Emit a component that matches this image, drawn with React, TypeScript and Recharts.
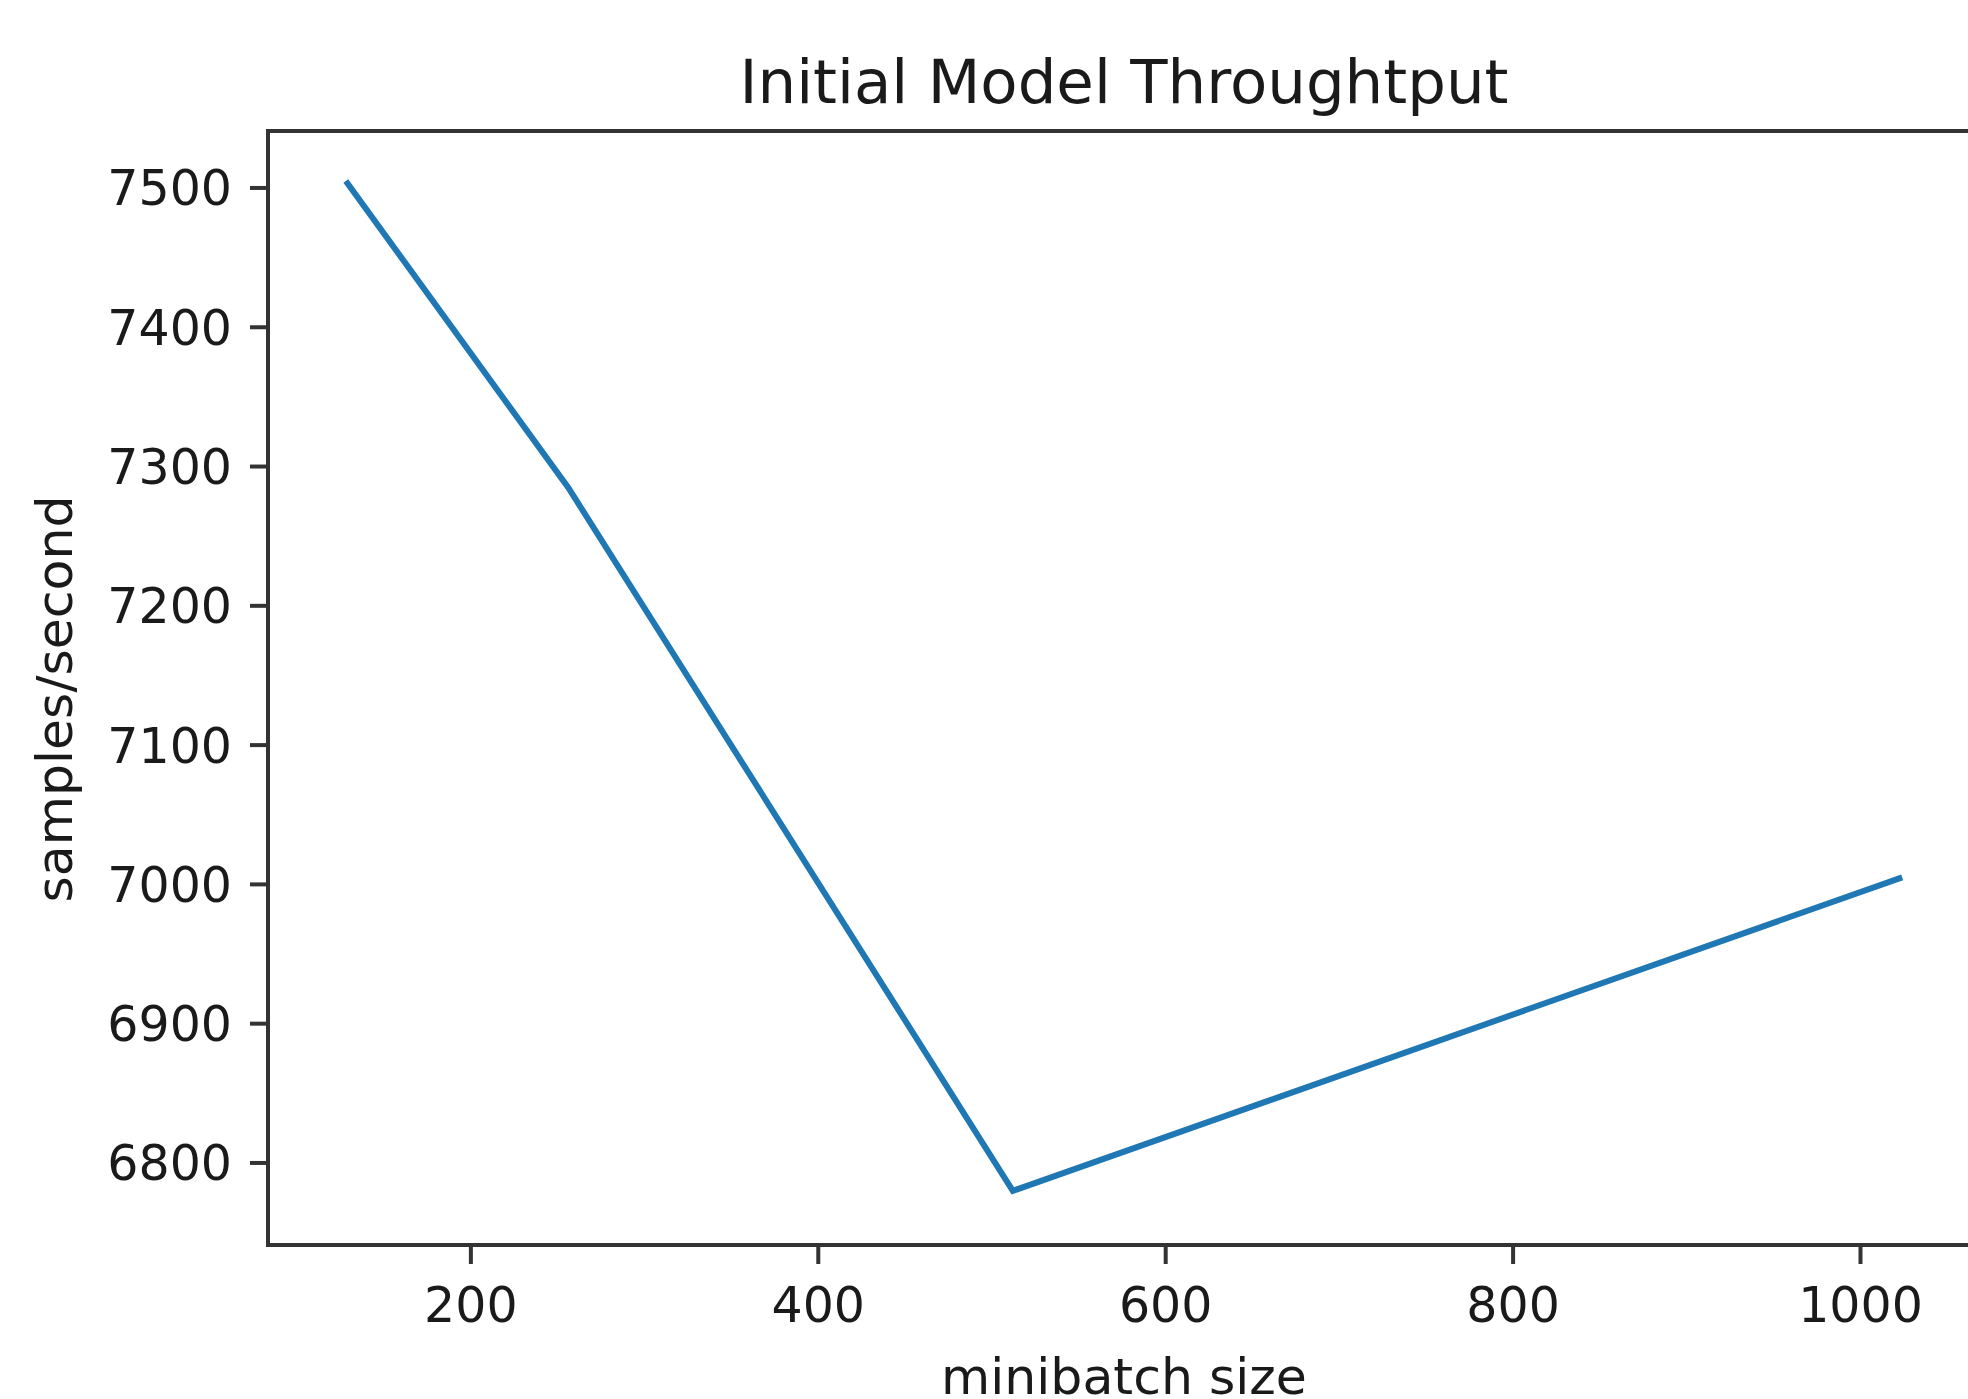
import {
  LineChart,
  Line,
  XAxis,
  YAxis,
  ReferenceArea,
  Label,
} from "recharts";

const minibatchSizes = [128, 256, 512, 1024];
const samplesPerSecond = [7505, 7285, 6780, 7005];
const xTicks = [200, 400, 600, 800, 1000];
const yTicks = [6800, 6900, 7000, 7100, 7200, 7300, 7400, 7500];

const xDomain: [number, number] = [83.2, 1068.8];
const yDomain: [number, number] = [6741.1, 7540.9];

const data = minibatchSizes.map((size, i) => ({
  size,
  throughput: samplesPerSecond[i],
}));

const FONT = "'DejaVu Sans', sans-serif";
const INK = "#1a1a1a";
const SPINE = "#333333";

const tickStyle = { fill: INK, fontSize: 49, fontFamily: FONT };
const tickLineStyle = { stroke: SPINE, strokeWidth: 4 };

const App = () => {
  return (
    <div
      style={{
        position: "absolute",
        top: 0,
        left: 0,
        width: 1968,
        height: 1399,
        overflow: "hidden",
        background: "#fff",
      }}
    >
      <svg
        width={1968}
        height={140}
        style={{ position: "absolute", top: 0, left: 0 }}
      >
        <text
          x={1124}
          y={103}
          textAnchor="middle"
          fontFamily={FONT}
          fontSize={61}
          fill={INK}
        >
          Initial Model Throughtput
        </text>
      </svg>
      <LineChart
        width={2000}
        height={1399}
        data={data}
        margin={{ top: 131, right: 20, bottom: 0, left: 0 }}
      >
        <XAxis
          dataKey="size"
          type="number"
          domain={xDomain}
          ticks={xTicks}
          allowDataOverflow
          height={154}
          tick={tickStyle}
          tickSize={19}
          tickMargin={23}
          tickLine={tickLineStyle}
          axisLine={{ stroke: SPINE, strokeWidth: 4 }}
        >
          <Label
            content={({ viewBox }: any) => (
              <text
                x={viewBox.x + viewBox.width / 2}
                y={1394}
                textAnchor="middle"
                fontFamily={FONT}
                fontSize={50.5}
                fill={INK}
              >
                minibatch size
              </text>
            )}
          />
        </XAxis>
        <YAxis
          type="number"
          domain={yDomain}
          ticks={yTicks}
          allowDataOverflow
          width={268}
          tick={tickStyle}
          tickSize={18}
          tickMargin={18}
          tickLine={tickLineStyle}
          axisLine={{ stroke: SPINE, strokeWidth: 4 }}
        >
          <Label
            content={({ viewBox }: any) => {
              const cx = 72;
              const cy = viewBox.y + viewBox.height / 2 + 11;
              return (
                <text
                  x={cx}
                  y={cy}
                  transform={`rotate(-90 ${cx} ${cy})`}
                  textAnchor="middle"
                  fontFamily={FONT}
                  fontSize={50.5}
                  fill={INK}
                >
                  samples/second
                </text>
              );
            }}
          />
        </YAxis>
        <ReferenceArea
          x1={xDomain[0]}
          x2={xDomain[1]}
          y1={yDomain[0]}
          y2={yDomain[1]}
          fill="none"
          fillOpacity={0}
          stroke={SPINE}
          strokeWidth={4}
          ifOverflow="visible"
        />
        <Line
          type="linear"
          dataKey="throughput"
          stroke="#1f77b4"
          strokeWidth={6}
          dot={false}
          activeDot={false}
          isAnimationActive={false}
        />
      </LineChart>
    </div>
  );
};

export default App;
